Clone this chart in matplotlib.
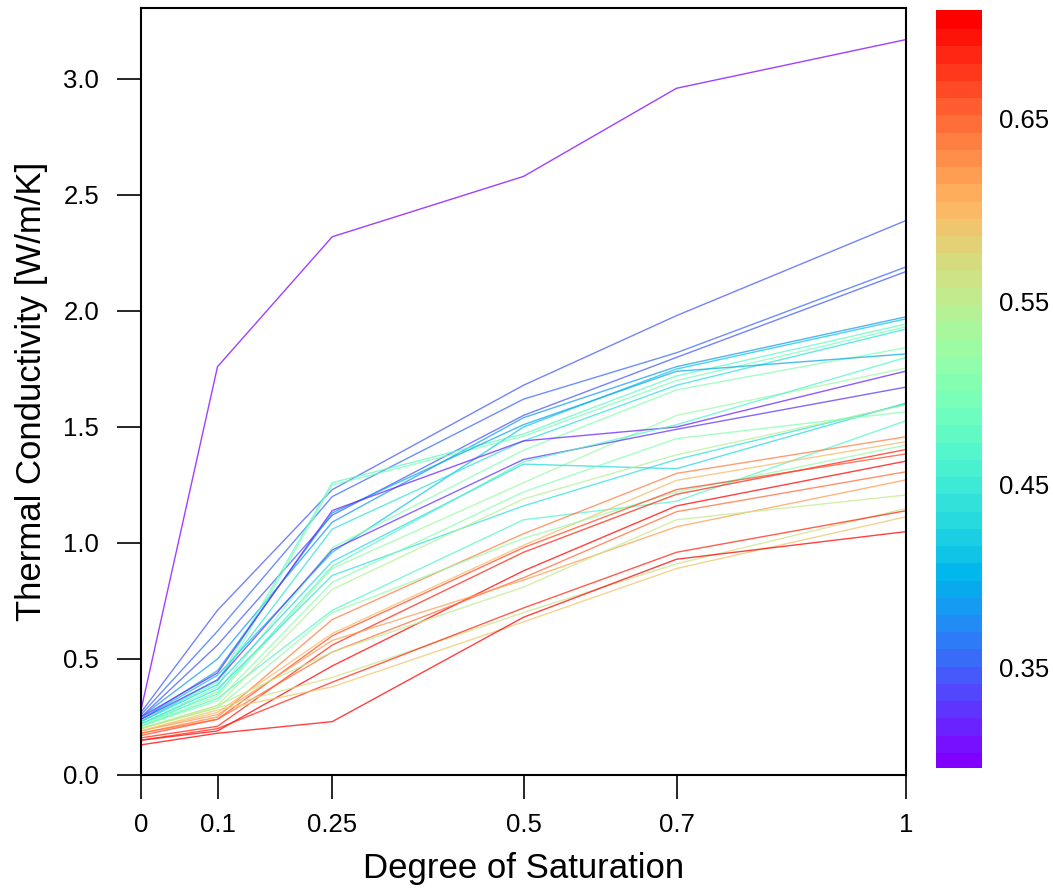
import numpy as np
import matplotlib
matplotlib.use("Agg")
import matplotlib.pyplot as plt
from matplotlib.colors import BoundaryNorm
from matplotlib.cm import ScalarMappable

plt.rcParams['font.family'] = ['Liberation Sans', 'DejaVu Sans']

# degree of saturation at which each sample was measured
saturation = [0, 0.1, 0.25, 0.5, 0.7, 1]

# porosity of each sample (drives the line colour)
porosity = [
    0.300, 0.345, 0.360, 0.350, 0.385, 0.410, 0.480, 0.495, 0.440, 0.510,
    0.395, 0.530, 0.320, 0.330, 0.430, 0.445, 0.465, 0.540, 0.505, 0.470,
    0.640, 0.600, 0.520, 0.690, 0.670, 0.700, 0.650, 0.620, 0.550, 0.560,
    0.690, 0.590, 0.700,
]

# thermal conductivity [W/m/K] per sample at each saturation step
conductivity = [
    [0.28, 1.76, 2.32, 2.58, 2.96, 3.17],
    [0.27, 0.71, 1.23, 1.68, 1.98, 2.39],
    [0.26, 0.62, 1.20, 1.62, 1.82, 2.19],
    [0.25, 0.56, 1.12, 1.55, 1.80, 2.17],
    [0.25, 0.50, 1.09, 1.54, 1.76, 1.975],
    [0.24, 0.43, 0.96, 1.50, 1.75, 1.966],
    [0.23, 0.40, 1.26, 1.47, 1.72, 1.944],
    [0.22, 0.38, 1.25, 1.46, 1.70, 1.932],
    [0.23, 0.41, 1.06, 1.44, 1.68, 1.922],
    [0.21, 0.36, 0.98, 1.40, 1.66, 1.842],
    [0.24, 0.45, 1.13, 1.51, 1.74, 1.815],
    [0.21, 0.34, 0.89, 1.26, 1.55, 1.754],
    [0.25, 0.44, 1.14, 1.44, 1.50, 1.741],
    [0.24, 0.41, 0.97, 1.36, 1.49, 1.672],
    [0.23, 0.39, 0.92, 1.34, 1.32, 1.603],
    [0.22, 0.37, 0.86, 1.16, 1.36, 1.599],
    [0.21, 0.33, 0.71, 1.10, 1.18, 1.527],
    [0.20, 0.30, 0.80, 1.19, 1.38, 1.595],
    [0.21, 0.32, 0.83, 1.22, 1.45, 1.566],
    [0.22, 0.35, 0.90, 1.35, 1.51, 1.80],
    [0.18, 0.25, 0.67, 1.04, 1.30, 1.458],
    [0.19, 0.27, 0.61, 0.99, 1.27, 1.437],
    [0.20, 0.29, 0.70, 1.02, 1.22, 1.422],
    [0.16, 0.21, 0.56, 0.96, 1.21, 1.403],
    [0.17, 0.24, 0.60, 0.98, 1.23, 1.384],
    [0.15, 0.19, 0.47, 0.88, 1.16, 1.353],
    [0.18, 0.24, 0.53, 0.85, 1.135, 1.307],
    [0.19, 0.26, 0.58, 0.84, 1.07, 1.272],
    [0.20, 0.30, 0.53, 0.81, 1.10, 1.207],
    [0.20, 0.29, 0.42, 0.70, 0.91, 1.149],
    [0.15, 0.20, 0.40, 0.72, 0.96, 1.139],
    [0.19, 0.28, 0.38, 0.66, 0.89, 1.113],
    [0.13, 0.18, 0.23, 0.68, 0.93, 1.049],
]

xticks = [0, 0.1, 0.25, 0.5, 0.7, 1]
xtick_labels = ['0', '0.1', '0.25', '0.5', '0.7', '1']
yticks = [0.0, 0.5, 1.0, 1.5, 2.0, 2.5, 3.0]
cbar_ticks = [0.35, 0.45, 0.55, 0.65]

W, H = 1053, 892
fig = plt.figure(figsize=(W / 100, H / 100), dpi=100)
ax = fig.add_axes([141 / W, 1 - 775 / H, (906 - 141) / W, (775 - 8) / H])
cax = fig.add_axes([936 / W, 1 - 768 / H, 46 / W, (768 - 10) / H])

cmap = plt.get_cmap('rainbow')
levels = np.linspace(0.295, 0.709, 45)
norm = BoundaryNorm(levels, cmap.N)

for p, k in zip(porosity, conductivity):
    ax.plot(saturation, k, color=cmap(norm(p)), lw=1.0, alpha=0.75)

ax.set_xlim(0, 1)
ax.set_ylim(0, 3.306)
ax.set_xticks(xticks)
ax.set_xticklabels(xtick_labels)
ax.set_yticks(yticks)
ax.set_yticklabels([f'{v:.1f}' for v in yticks])
ax.tick_params(axis='both', direction='out', length=17, width=1.2,
               labelsize=18.5, color='black')
ax.tick_params(axis='x', pad=10)
ax.tick_params(axis='y', pad=13)
for sp in ax.spines.values():
    sp.set_linewidth(1.5)

ax.set_xlabel('Degree of Saturation', fontsize=25, labelpad=11)
ax.set_ylabel('Thermal Conductivity [W/m/K]', fontsize=25, labelpad=11)

sm = ScalarMappable(norm=norm, cmap=cmap)
cb = fig.colorbar(sm, cax=cax, ticks=cbar_ticks)
cb.outline.set_visible(False)
cb.ax.minorticks_off()
cb.ax.tick_params(which='both', length=0, labelsize=18.5, pad=12)
cb.ax.set_yticklabels([f'{t:.2f}' for t in cbar_ticks])
cb.solids.set_edgecolor('face')

fig.savefig('out.png', dpi=100)
